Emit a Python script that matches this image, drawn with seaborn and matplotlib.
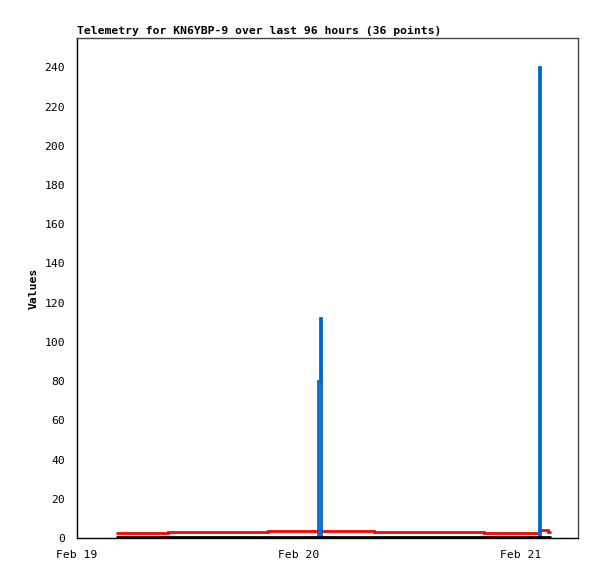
import pandas as pd
import seaborn as sns
import matplotlib.pyplot as plt
import matplotlib.dates as mdates

# telemetry samples, hours after Feb 19 00:00
hours = [4.2, 5.5, 7.0, 8.5, 9.84, 11.5, 13.0, 15.0, 17.0, 19.0,
         20.65, 22.5, 24.0, 25.5, 26.0, 26.22, 26.35, 28.0, 30.0, 32.1,
         34.0, 36.0, 38.0, 40.0, 42.0, 44.0, 46.0, 48.0, 49.5, 49.8,
         49.95, 50.1, 50.9, 51.0, 51.1, 51.24]
red_vals = [2.7, 2.7, 2.7, 2.7, 3.1, 3.1, 3.1, 3.1, 3.1, 3.1,
            3.6, 3.6, 3.6, 3.6, 3.6, 3.6, 3.6, 3.6, 3.6, 3.1,
            3.1, 3.1, 3.1, 3.1, 3.1, 2.6, 2.6, 2.6, 2.6, 2.6,
            4.0, 4.0, 2.9, 2.9, 2.9, 2.9]
blue_vals = [0, 0, 0, 0, 0, 0, 0, 0, 0, 0,
             0, 0, 0, 0, 80, 112, 0, 0, 0, 0,
             0, 0, 0, 0, 0, 0, 0, 0, 0, 0,
             240, 0, 0, 0, 0, 0]
black_vals = [0.4] * 36

y_ticks = list(range(0, 241, 20))
start = pd.Timestamp("2024-02-19 00:00")

times = [start + pd.Timedelta(hours=h) for h in hours]
df = pd.DataFrame({"t": times, "red": red_vals, "blue": blue_vals, "black": black_vals})

sns.set_style("white")
plt.rcParams["font.family"] = ["DejaVu Sans Mono"]
plt.rcParams["text.color"] = "black"
plt.rcParams["axes.labelcolor"] = "black"

fig = plt.figure(figsize=(5.97, 5.79), dpi=100)
ax = fig.add_axes([77 / 597, 41 / 579, 501 / 597, 500 / 579])

line_kw = dict(lw=2, drawstyle="steps-post", solid_capstyle="butt", solid_joinstyle="miter", ax=ax)
sns.lineplot(data=df, x="t", y="red", color="#ff0000", **line_kw)
sns.lineplot(data=df, x="t", y="blue", color="#0066cc", **line_kw)
sns.lineplot(data=df, x="t", y="black", color="#000000", **line_kw)

ax.set_xlim(start, start + pd.Timedelta(hours=54.16))
ax.set_ylim(0, 255)
ax.set_yticks(y_ticks)
ax.xaxis.set_major_locator(mdates.DayLocator())
ax.xaxis.set_major_formatter(mdates.DateFormatter("%b %d"))
ax.tick_params(axis="both", direction="out", length=5, width=1, colors="black", labelsize=8.2)

for side in ["top", "right"]:
    ax.spines[side].set_color("#444444")
for side in ["left", "bottom"]:
    ax.spines[side].set_color("black")
for s in ax.spines.values():
    s.set_linewidth(1)

ax.set_xlabel("")
ax.set_ylabel("Values", fontsize=8.2, fontweight="bold", color="black")
ax.set_title("Telemetry for KN6YBP-9 over last 96 hours (36 points)",
             loc="left", fontsize=8.2, fontweight="bold", pad=3, color="black")

fig.savefig("out.png", dpi=100)
